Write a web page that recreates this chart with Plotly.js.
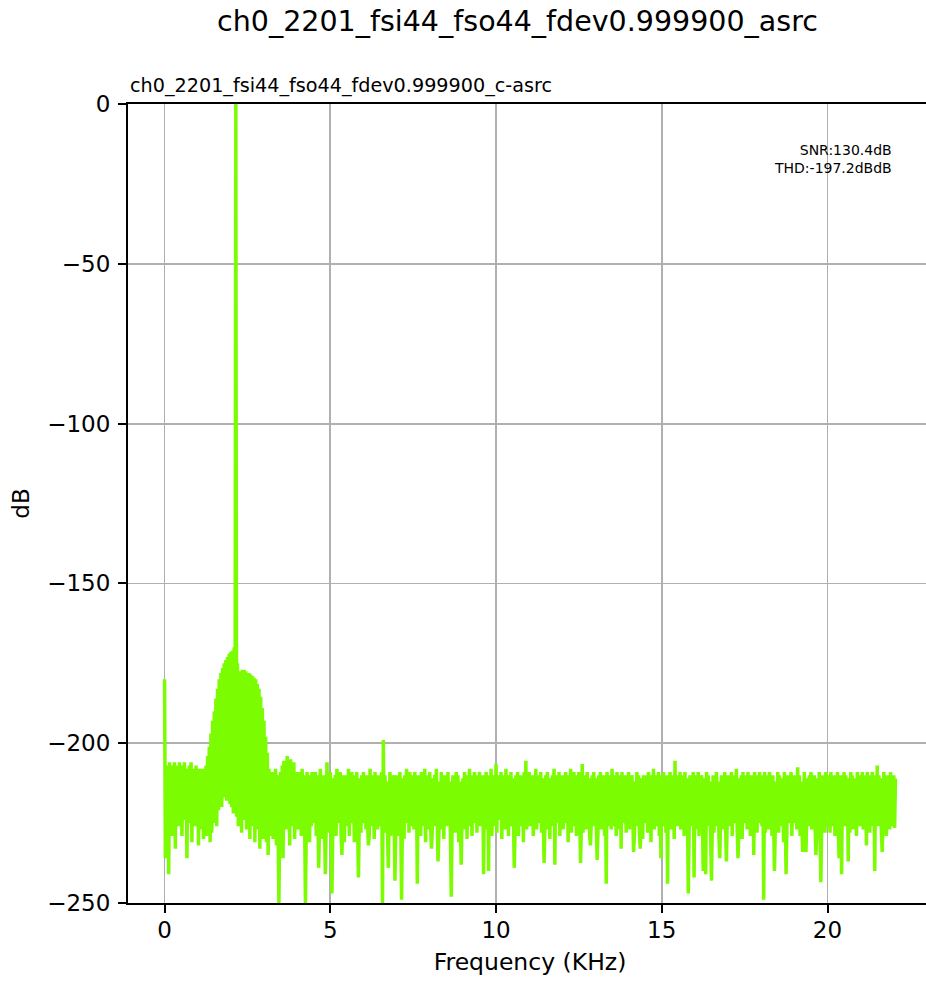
<!DOCTYPE html>
<html>
<head>
<meta charset="utf-8">
<script src="https://cdn.plot.ly/plotly-3.0.1.min.js"></script>
<style>
html, body { margin: 0; padding: 0; overflow: hidden; background: #fff; }
#chart { width: 932px; height: 983px; }
</style>
</head>
<body>
<div id="chart"></div>
<script>
// Spectrum: one value per 0.025 kHz bin, 0 .. 22.05 kHz (dB)
const binWidthKHz = 0.025;
const levelsDb = [
  -180,-236,-208,-224,-207,-241,-206,-222,-208,-229,-207,-225,-206,-233,-209,-223,-207,-226,-206,-221,
  -208,-229,-207,-224,-206,-222,-208,-236,-209,-225,-207,-221,-206,-231,-208,-224,-210,-226,-207,-222,
  -209,-232,-208,-223,-210,-227,-208,-230,-209,-224,-207,-229,-204,-226,-201,-231,-197,-228,-193,-225,
  -190,-223,-186,-226,-183,-221,-180,-219,-178,-220,-176.5,-217,-175,-216,-174,-218,-173,-217,-172,-219,
  -171.5,-220,-171,-222,-170,-221,0,-223,-175,-226,-178,-222,-177.5,-228,-177,-224,-177,-221,-177.5,-227,
  -178,-225,-178,-230,-178.5,-226,-179,-223,-179.5,-231,-180,-227,-181.5,-225,-183,-233,-185.5,-228,-189,-230,
  -193,-228,-198,-231,-203,-235,-208,-229,-210,-224,-209,-230,-211,-226,-208,-232,-210,-226,-250,-224,
  -209,-229,-207,-236,-205.5,-225,-208,-227,-204,-222,-207,-232,-205,-226,-208,-224,-206,-230,-209,-225,
  -210,-227,-209,-223,-211,-229,-208,-225,-210,-222,-250,-228,-209,-224,-212,-231,-210,-226,-209,-223,
  -211,-225,-209,-229,-210,-222,-239,-226,-208,-224,-211,-230,-210,-223,-241,-227,-206,-225,-210,-228,
  -209,-224,-247,-227,-211,-222,-210,-229,-208,-225,-212,-223,-209,-228,-235,-226,-210,-231,-211,-224,
  -210,-226,-208,-229,-211,-223,-209,-225,-212,-231,-210,-222,-209,-227,-242,-224,-211,-228,-210,-225,
  -209,-223,-211,-227,-210,-225,-232,-229,-208,-222,-211,-226,-210,-230,-209,-224,-212,-227,-210,-223,
  -211,-226,-209,-250,-199,-228,-210,-224,-212,-227,-239,-223,-209,-229,-211,-225,-210,-222,-243,-227,
  -210,-224,-212,-229,-209,-223,-249,-226,-211,-230,-210,-225,-208,-222,-211,-228,-209,-224,-212,-226,
  -210,-227,-209,-223,-211,-244,-210,-225,-212,-229,-209,-222,-210,-226,-208,-231,-211,-224,-210,-227,
  -209,-225,-233,-228,-211,-222,-210,-226,-208,-224,-237,-229,-212,-223,-209,-227,-210,-230,-211,-224,
  -210,-226,-209,-223,-212,-229,-248,-225,-210,-222,-211,-228,-209,-224,-210,-231,-212,-226,-238,-223,
  -211,-227,-209,-224,-210,-230,-212,-222,-208,-226,-210,-229,-211,-223,-209,-225,-212,-228,-210,-224,
  -209,-226,-211,-223,-210,-241,-212,-227,-209,-224,-210,-240,-211,-225,-208,-229,-210,-222,-212,-226,
  -206.5,-228,-210,-224,-211,-222,-209,-230,-212,-225,-210,-227,-208,-223,-211,-229,-210,-226,-209,-224,
  -211,-223,-239,-227,-210,-225,-209,-229,-212,-222,-210,-226,-211,-231,-209,-224,-205.5,-227,-210,-223,
  -209,-226,-212,-224,-210,-229,-211,-223,-208,-227,-210,-225,-212,-222,-209,-228,-211,-224,-237.5,-226,
  -210,-223,-209,-227,-211,-230,-212,-224,-210,-226,-208,-238,-211,-225,-210,-222,-209,-229,-212,-224,
  -210,-227,-211,-223,-209,-225,-210,-231,-212,-224,-208,-228,-211,-222,-209,-226,-210,-229,-211,-225,
  -209,-224,-237.5,-226,-206.5,-228,-210,-223,-212,-227,-209,-225,-211,-229,-232,-224,-210,-226,-209,-222,
  -211,-225,-236.5,-228,-210,-223,-209,-227,-212,-224,-210,-229,-211,-244,-209,-226,-210,-222,-212,-227,
  -208,-224,-210,-226,-211,-229,-209,-223,-212,-227,-210,-233,-209,-225,-211,-222,-210,-228,-212,-224,
  -209,-227,-211,-225,-210,-222,-234,-229,-212,-224,-209,-226,-210,-228,-233,-223,-211,-230,-210,-225,
  -210,-223,-212,-228,-209,-225,-211,-231,-210,-224,-208,-227,-212,-222,-210,-226,-209,-229,-211,-236,
  -210,-226,-209,-224,-211,-228,-210,-244,-212,-223,-209,-227,-210,-225,-211,-230,-205.5,-222,-210,-226,
  -211,-224,-209,-227,-212,-223,-210,-229,-209,-225,-211,-222,-247,-228,-210,-224,-212,-226,-209,-242,
  -210,-227,-211,-223,-209,-229,-212,-225,-210,-222,-240,-228,-211,-241,-209,-226,-210,-224,-212,-230,
  -243,-225,-210,-228,-211,-223,-209,-226,-212,-229,-236,-224,-210,-227,-211,-222,-209,-226,-237,-224,
  -210,-226,-212,-223,-209,-229,-211,-225,-210,-222,-208,-227,-236,-228,-211,-224,-210,-230,-209,-225,
  -211,-223,-210,-227,-209,-224,-212,-229,-210,-226,-211,-235,-209,-222,-210,-228,-212,-225,-209,-223,
  -210,-226,-211,-249,-209,-228,-212,-224,-210,-227,-209,-222,-211,-229,-210,-225,-240,-226,-212,-223,
  -209,-228,-210,-224,-212,-226,-211,-231,-209,-223,-241,-227,-210,-225,-211,-222,-209,-229,-212,-224,
  -210,-225,-211,-227,-207.5,-223,-210,-229,-212,-224,-234,-226,-209,-228,-234,-222,-211,-226,-210,-224,
  -209,-227,-212,-223,-210,-226,-235,-229,-211,-224,-209,-227,-243.5,-225,-210,-222,-212,-228,-209,-226,
  -210,-224,-211,-228,-209,-222,-212,-226,-210,-229,-211,-223,-209,-227,-236,-225,-210,-241,-212,-224,
  -209,-226,-210,-223,-212,-237,-211,-228,-209,-224,-210,-227,-211,-222,-212,-229,-209,-225,-210,-226,
  -211,-224,-209,-227,-210,-225,-212,-232,-209,-223,-211,-228,-210,-226,-209,-222,-211,-240,-210,-225,
  -207,-226,-210,-223,-211,-228,-234,-225,-209,-224,-212,-229,-210,-222,-211,-227,-209,-225,-211,-226,
  -210,-226.5,-211
];
const freqKHz = levelsDb.map((_, i) => Math.round(i * binWidthKHz * 1000) / 1000);

const xTicks = [0, 5, 10, 15, 20];
const yTicks = [0, -50, -100, -150, -200, -250];
const mainTitle = 'ch0_2201_fsi44_fso44_fdev0.999900_asrc';
const subTitle = 'ch0_2201_fsi44_fso44_fdev0.999900_c-asrc';
const statsLines = ['SNR:130.4dB', 'THD:-197.2dBdB'];

const FONT = 'DejaVu Sans, Liberation Sans, sans-serif';

const trace = {
  type: 'scatter',
  mode: 'lines',
  x: freqKHz,
  y: levelsDb,
  line: { color: '#7CFC00', width: 3.5, simplify: false },
  hoverinfo: 'skip'
};

const axisCommon = {
  showline: true, linecolor: '#000', linewidth: 2, mirror: true,
  ticks: 'outside', ticklen: 8, tickwidth: 2, tickcolor: '#000',
  showgrid: true, gridcolor: '#b0b0b0', gridwidth: 1.8,
  zeroline: false,
  tickfont: { family: FONT, size: 23, color: '#000' }
};

const layout = {
  width: 932, height: 983,
  margin: { l: 128, r: 0, t: 104, b: 80, pad: 0 },
  paper_bgcolor: '#fff', plot_bgcolor: '#fff',
  showlegend: false,
  title: {
    text: mainTitle,
    font: { family: FONT, size: 28.5, color: '#000' },
    xref: 'container', x: 517.5 / 932, xanchor: 'center',
    yref: 'container', y: 1 - 21 / 983, yanchor: 'middle'
  },
  xaxis: Object.assign({}, axisCommon, {
    range: [-1.1025, 23.1525],
    tickvals: xTicks,
    ticktext: xTicks.map(String),
    ticklabelstandoff: -3,
    title: { text: 'Frequency (KHz)', font: { family: FONT, size: 23.5, color: '#000' }, standoff: 12 }
  }),
  yaxis: Object.assign({}, axisCommon, {
    range: [-250, 0],
    tickvals: yTicks,
    ticktext: yTicks.map(v => v < 0 ? '\u2212' + Math.abs(v) : String(v)),
    ticklabelstandoff: 3,
    title: { text: 'dB', font: { family: FONT, size: 23, color: '#000' }, standoff: 11 }
  }),
  annotations: [
    {
      text: subTitle, showarrow: false,
      xref: 'paper', yref: 'paper', x: 0, y: 1,
      xanchor: 'left', yanchor: 'bottom', yshift: 5,
      font: { family: FONT, size: 19.2, color: '#000' }
    },
    {
      text: statsLines.join('<br>'), showarrow: false, align: 'right',
      xref: 'paper', yref: 'paper', x: (894 - 128) / 804, y: 1 - (140 - 104) / 799,
      xanchor: 'right', yanchor: 'top',
      font: { family: FONT, size: 14, color: '#000' }
    }
  ]
};

Plotly.newPlot('chart', [trace], layout, { displayModeBar: false, staticPlot: true });
</script>
</body>
</html>
